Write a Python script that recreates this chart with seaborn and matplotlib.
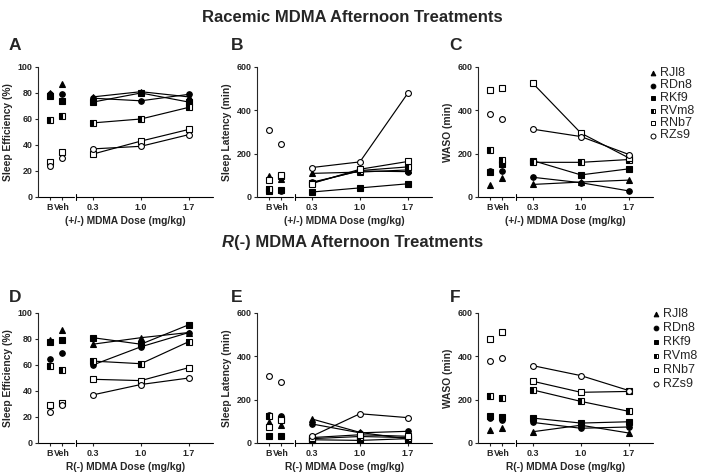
import matplotlib
matplotlib.use("Agg")
import matplotlib.pyplot as plt
import numpy as np
import pandas as pd
import seaborn as sns
from matplotlib.lines import Line2D

# ---------------- data ----------------
subjects = ["RJl8", "RDn8", "RKf9", "RVm8", "RNb7", "RZs9"]
conditions = ["B", "Veh", "0.3", "1.0", "1.7"]
tick_labels = ["B", "Veh", "0.3", "1.0", "1.7"]

# values per subject: [B, Veh, 0.3, 1.0, 1.7]
rac_eff = {
    "RJl8": [80, 87, 77, 81, 77],
    "RDn8": [79, 79, 76, 74, 79],
    "RKf9": [78, 74, 73, 80, 73],
    "RVm8": [59, 62, 57, 60, 69],
    "RNb7": [27, 35, 33, 43, 52],
    "RZs9": [24, 30, 37, 39, 48],
}
rac_lat = {
    "RJl8": [97, 84, 109, 115, 125],
    "RDn8": [27, 30, 68, 120, 117],
    "RKf9": [30, 32, 23, 42, 61],
    "RVm8": [37, 95, 65, 122, 139],
    "RNb7": [78, 100, 62, 128, 164],
    "RZs9": [308, 245, 136, 162, 480],
}
rac_waso = {
    "RJl8": [55, 86, 58, 69, 78],
    "RDn8": [121, 121, 91, 66, 28],
    "RKf9": [114, 154, 168, 102, 130],
    "RVm8": [216, 172, 160, 160, 173],
    "RNb7": [494, 505, 525, 295, 180],
    "RZs9": [381, 360, 313, 279, 196],
}
r_eff = {
    "RJl8": [79, 87, 76, 81, 85],
    "RDn8": [65, 69, 60, 74, 85],
    "RKf9": [78, 79, 81, 76, 91],
    "RVm8": [59, 56, 63, 61, 78],
    "RNb7": [29, 31, 49, 48, 58],
    "RZs9": [24, 29, 37, 45, 50],
}
r_lat = {
    "RJl8": [97, 83, 111, 49, 18],
    "RDn8": [128, 123, 88, 47, 54],
    "RKf9": [31, 31, 15, 12, 20],
    "RVm8": [123, 110, 20, 30, 25],
    "RNb7": [75, 105, 25, 38, 31],
    "RZs9": [308, 280, 31, 135, 117],
}
r_waso = {
    "RJl8": [58, 68, 52, 82, 46],
    "RDn8": [115, 105, 95, 68, 74],
    "RKf9": [123, 120, 115, 92, 98],
    "RVm8": [215, 209, 245, 192, 146],
    "RNb7": [482, 512, 285, 234, 238],
    "RZs9": [378, 391, 357, 311, 242],
}

# ---------------- style ----------------
sns.set_style("ticks")
plt.rcParams["font.family"] = ["Liberation Sans", "DejaVu Sans"]
plt.rcParams["font.weight"] = "bold"

xpos = [0, 1, 3.6, 7.6, 11.6]
XMIN, XMAX, BREAK1, BREAK2 = -0.96, 13.6, 2.0, 2.2

marker_style = {
    "RJl8": dict(marker="^", mfc="black", mec="black", ms=4.0),
    "RDn8": dict(marker="o", mfc="black", mec="black", ms=4.0),
    "RKf9": dict(marker="s", mfc="black", mec="black", ms=3.8),
    "RVm8": dict(marker="s", mfc="black", mec="black", ms=3.8,
                 fillstyle="left", markerfacecoloralt="white"),
    "RNb7": dict(marker="s", mfc="white", mec="black", ms=4.0),
    "RZs9": dict(marker="o", mfc="white", mec="black", ms=4.2),
}

W, H = 704, 476
fig = plt.figure(figsize=(W / 100, H / 100), dpi=100)


def fx(px):
    return px / W


def fy(py):
    return 1 - py / H


def panel(rect, data, ymax, yticks, ylabel, xlabel):
    ax = fig.add_axes(rect)
    rows = []
    for s in subjects:
        for c, x, v in zip(conditions, xpos, data[s]):
            rows.append(dict(subject=s, cond=c, x=x, val=v))
    df = pd.DataFrame(rows)
    dose = df[df["cond"].isin(["0.3", "1.0", "1.7"])]
    sns.lineplot(data=dose, x="x", y="val", units="subject", estimator=None,
                 color="black", lw=0.85, ax=ax, legend=False, zorder=2)
    for s in subjects:
        sub = df[df["subject"] == s]
        ax.plot(sub["x"], sub["val"], linestyle="none", mew=0.8,
                clip_on=False, zorder=3, **marker_style[s])
    ax.set_xlim(XMIN, XMAX)
    ax.set_ylim(0, ymax)
    ax.set_yticks(yticks)
    ax.set_yticklabels([str(t) for t in yticks])
    ax.set_xticks(xpos)
    ax.set_xticklabels(tick_labels)
    ax.tick_params(axis="both", labelsize=6.4, length=2.5, width=0.8, pad=1.5)
    for lab in ax.get_xticklabels() + ax.get_yticklabels():
        lab.set_fontweight("bold")
    ax.spines["top"].set_visible(False)
    ax.spines["right"].set_visible(False)
    ax.spines["bottom"].set_visible(False)
    ax.spines["left"].set_linewidth(0.8)
    tr = ax.get_xaxis_transform()
    ax.plot([XMIN, BREAK1], [0, 0], color="black", lw=0.8, transform=tr, clip_on=False)
    ax.plot([BREAK2, XMAX], [0, 0], color="black", lw=0.8, transform=tr, clip_on=False)
    ax.plot([BREAK2, BREAK2], [-0.02, 0.02], color="black", lw=0.8, transform=tr, clip_on=False)
    ax.set_ylabel(ylabel, fontsize=7.4, fontweight="bold", labelpad=3)
    ax.set_xlabel(xlabel, fontsize=7.4, fontweight="bold", labelpad=3)
    return ax


lefts = [38, 257, 478]
width_px = 175
top_row = (67, 197)
bot_row = (313, 443)


def rect(lpx, row):
    t, b = row
    return [fx(lpx), fy(b), fx(width_px), (b - t) / H]


xl1 = "(+/-) MDMA Dose (mg/kg)"
xl2 = "R(-) MDMA Dose (mg/kg)"
panel(rect(lefts[0], top_row), rac_eff, 100, [0, 20, 40, 60, 80, 100], "Sleep Efficiency (%)", xl1)
panel(rect(lefts[1], top_row), rac_lat, 600, [0, 200, 400, 600], "Sleep Latency (min)", xl1)
panel(rect(lefts[2], top_row), rac_waso, 600, [0, 200, 400, 600], "WASO (min)", xl1)
panel(rect(lefts[0], bot_row), r_eff, 100, [0, 20, 40, 60, 80, 100], "Sleep Efficiency (%)", xl2)
panel(rect(lefts[1], bot_row), r_lat, 600, [0, 200, 400, 600], "Sleep Latency (min)", xl2)
panel(rect(lefts[2], bot_row), r_waso, 600, [0, 200, 400, 600], "WASO (min)", xl2)

# panel letters
for letter, xp, yp in [("A", 15, 45), ("B", 237, 45), ("C", 455, 45),
                       ("D", 15, 297), ("E", 237, 297), ("F", 455, 297)]:
    fig.text(fx(xp), fy(yp), letter, fontsize=12.5, fontweight="bold",
             ha="center", va="center")

# titles
fig.text(0.5, fy(18), "Racemic MDMA Afternoon Treatments", fontsize=12,
         fontweight="bold", ha="center", va="center")

renderer = fig.canvas.get_renderer()
t_r = fig.text(0, fy(243), "R", fontsize=12, fontweight="bold", style="italic",
               ha="left", va="center")
t_rest = fig.text(0, fy(243), "(-) MDMA Afternoon Treatments", fontsize=12,
                  fontweight="bold", ha="left", va="center")
w_r = t_r.get_window_extent(renderer).width
w_rest = t_rest.get_window_extent(renderer).width
start = (W - (w_r + w_rest)) / 2
t_r.set_x(fx(start))
t_rest.set_x(fx(start + w_r + 0.5))


# legends
def legend(x_marker, y_first, spacing):
    for i, s in enumerate(subjects):
        y = y_first + i * spacing
        st = dict(marker_style[s])
        st["ms"] = st["ms"] * 0.85
        fig.add_artist(Line2D([fx(x_marker)], [fy(y)], linestyle="none",
                              mew=0.7, transform=fig.transFigure, **st))
        fig.text(fx(x_marker + 7), fy(y), s, fontsize=9, fontweight="normal",
                 ha="left", va="center")


legend(653, 73, 12.5)
legend(656, 314, 14.0)

fig.savefig("out.png", dpi=100)
